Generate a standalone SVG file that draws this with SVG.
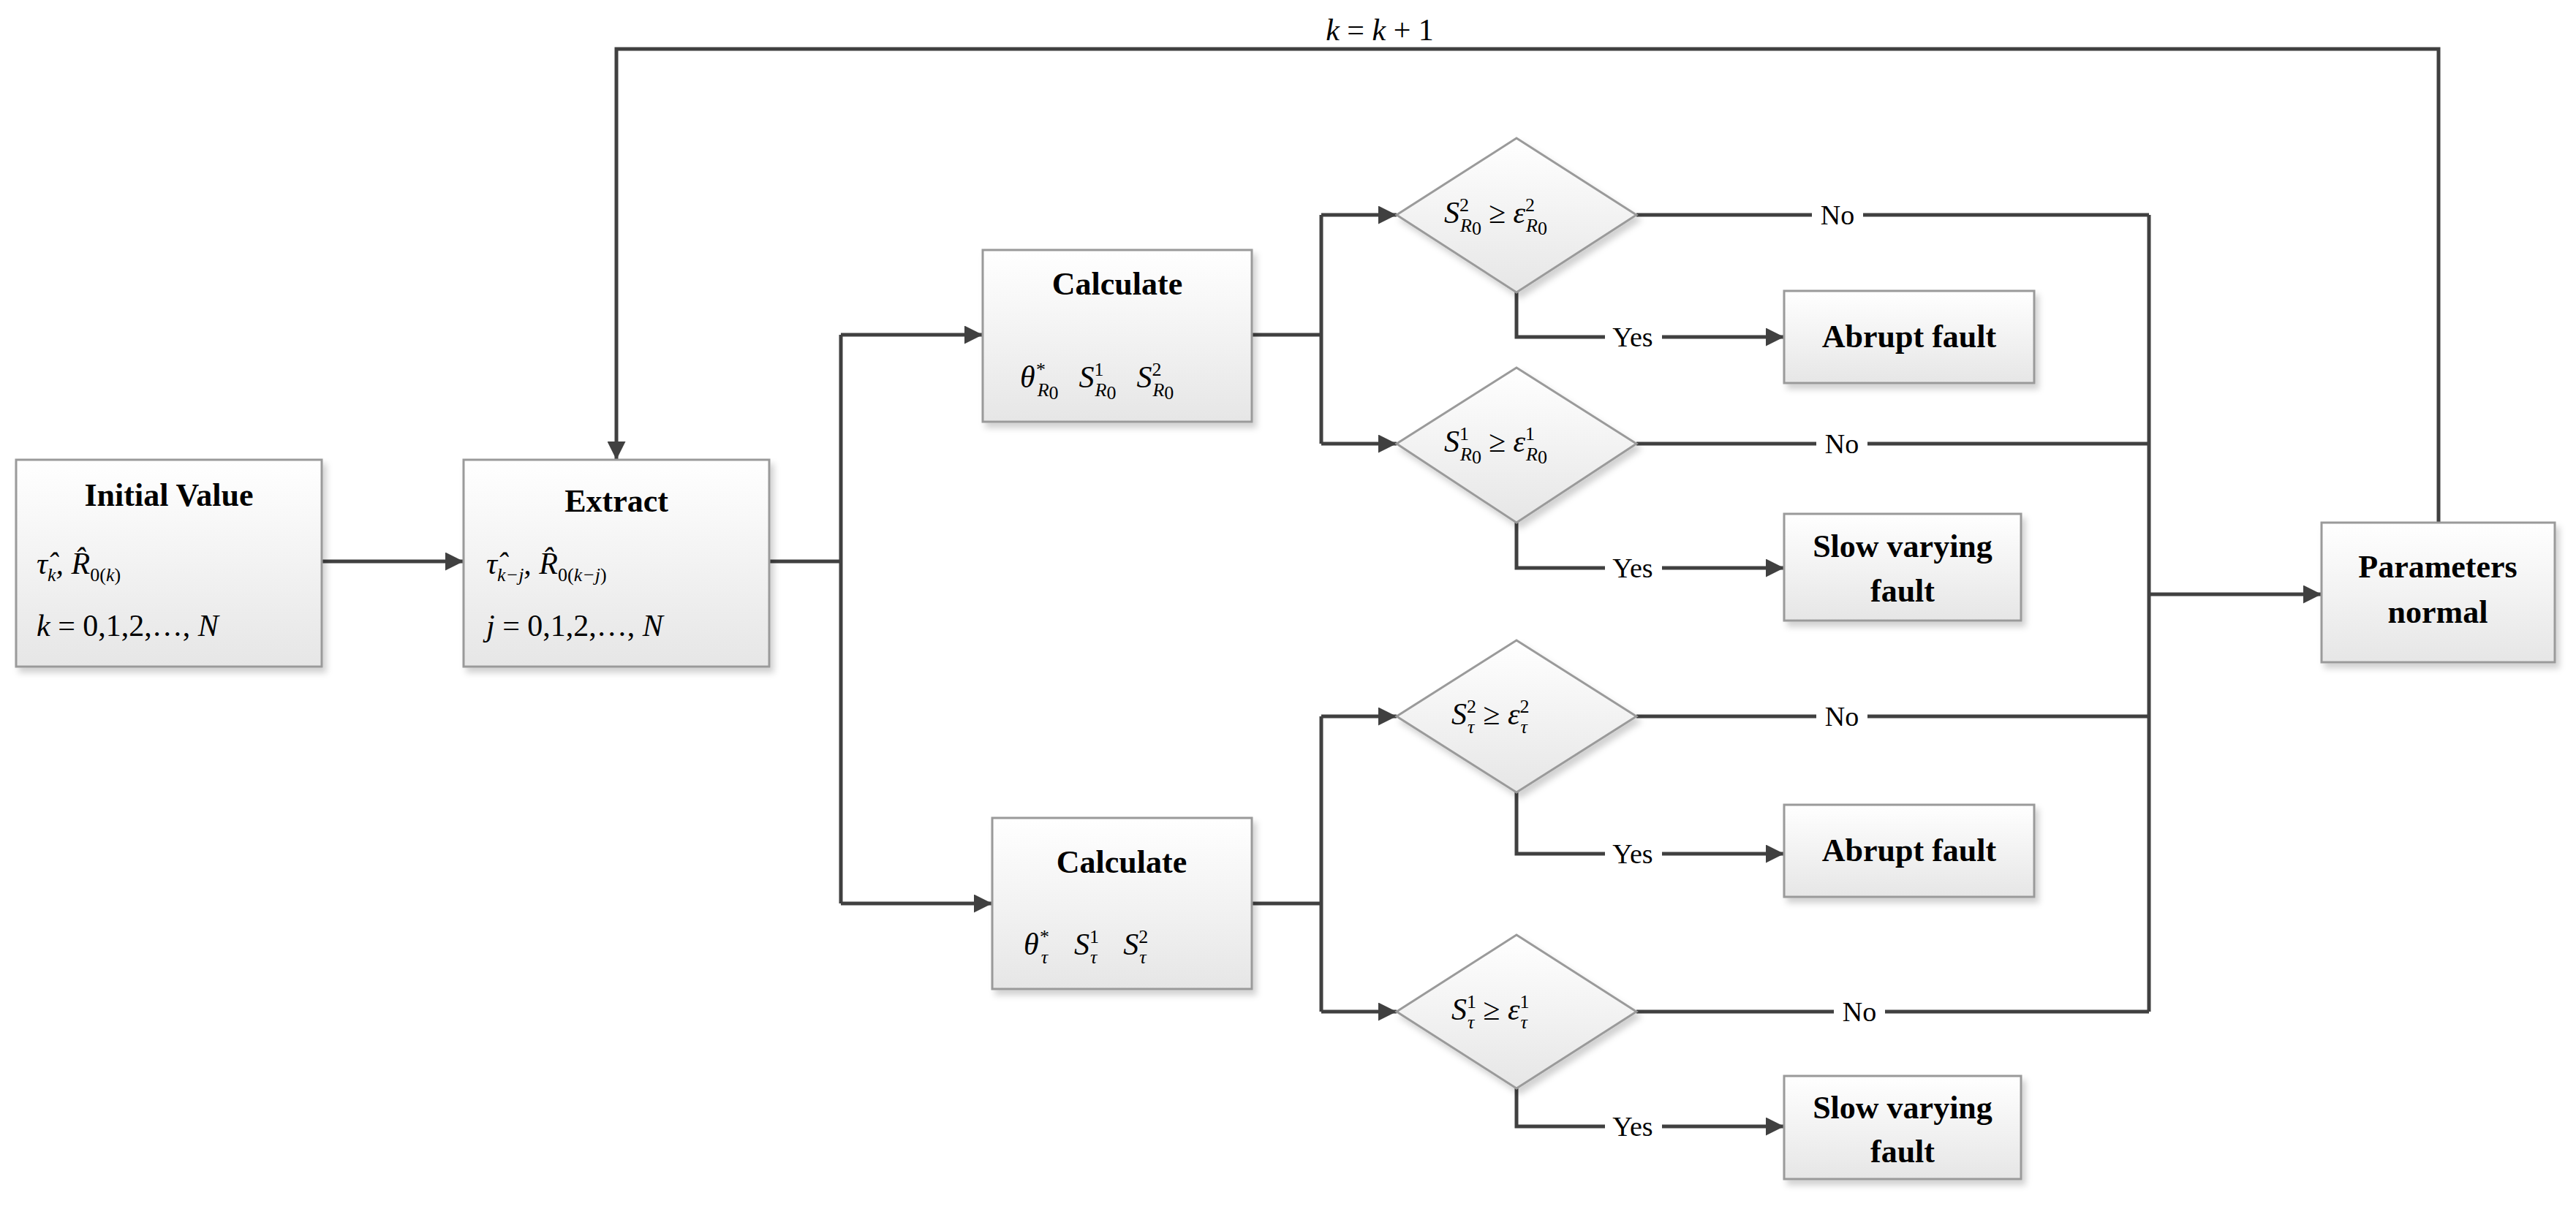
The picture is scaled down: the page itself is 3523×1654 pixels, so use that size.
<svg xmlns="http://www.w3.org/2000/svg" width="3523" height="1654" viewBox="0 0 3523 1654">
<defs>
<linearGradient id="g" x1="0" y1="0" x2="0" y2="1"><stop offset="0" stop-color="#ffffff"/><stop offset="1" stop-color="#e6e6e6"/></linearGradient>
<filter id="sh" x="-10%" y="-10%" width="125%" height="125%"><feDropShadow dx="5" dy="7" stdDeviation="4" flood-color="#000" flood-opacity="0.18"/></filter>
<marker id="a" viewBox="0 0 10 10" refX="10" refY="5" markerWidth="5" markerHeight="5" orient="auto" markerUnits="strokeWidth"><path d="M0,0 L10,5 L0,10 z" fill="#404040"/></marker>
</defs>
<style>
.b{fill:url(#g);stroke:#9a9a9a;stroke-width:3;filter:url(#sh)}
.t{font-family:"Liberation Serif",serif;font-weight:bold;font-size:44px;text-anchor:middle;fill:#000}
.m{font-family:"Liberation Serif",serif;font-style:italic;font-size:42px;fill:#000}
.l{font-family:"Liberation Serif",serif;font-size:38px;fill:#000;text-anchor:middle}
.c path,.c line,.c polyline{stroke:#404040;stroke-width:5;fill:none}
.s{font-size:26px}
</style>
<rect width="3523" height="1654" fill="#fff"/>
<g class="c" id="connectors">
<line x1="440" y1="768" x2="634" y2="768" marker-end="url(#a)"/>
<polyline points="3335,715 3335,67 843,67 843,629" marker-end="url(#a)"/>
<polyline points="1052,768 1150,768"/>
<line x1="1150" y1="458" x2="1150" y2="1236"/>
<line x1="1150" y1="458" x2="1344" y2="458" marker-end="url(#a)"/>
<line x1="1150" y1="1236" x2="1357" y2="1236" marker-end="url(#a)"/>
<line x1="1712" y1="458" x2="1807" y2="458"/>
<line x1="1807" y1="294" x2="1807" y2="607"/>
<line x1="1807" y1="294" x2="1910" y2="294" marker-end="url(#a)"/>
<line x1="1807" y1="607" x2="1910" y2="607" marker-end="url(#a)"/>
<line x1="1712" y1="1236" x2="1807" y2="1236"/>
<line x1="1807" y1="980" x2="1807" y2="1384"/>
<line x1="1807" y1="980" x2="1910" y2="980" marker-end="url(#a)"/>
<line x1="1807" y1="1384" x2="1910" y2="1384" marker-end="url(#a)"/>
<line x1="2238" y1="294" x2="2939" y2="294"/>
<line x1="2238" y1="607" x2="2939" y2="607"/>
<line x1="2238" y1="980" x2="2939" y2="980"/>
<line x1="2238" y1="1384" x2="2939" y2="1384"/>
<line x1="2939" y1="294" x2="2939" y2="1384"/>
<line x1="2939" y1="813" x2="3175" y2="813" marker-end="url(#a)"/>
<polyline points="2074,400 2074,461 2440,461" marker-end="url(#a)"/>
<polyline points="2074,715 2074,777 2440,777" marker-end="url(#a)"/>
<polyline points="2074,1084 2074,1168 2440,1168" marker-end="url(#a)"/>
<polyline points="2074,1489 2074,1541 2440,1541" marker-end="url(#a)"/>
</g>
<g id="labels">
<rect x="2478" y="272" width="70" height="44" fill="#fff"/><text class="l" x="2513" y="307">No</text>
<rect x="2484" y="585" width="70" height="44" fill="#fff"/><text class="l" x="2519" y="620">No</text>
<rect x="2484" y="958" width="70" height="44" fill="#fff"/><text class="l" x="2519" y="993">No</text>
<rect x="2508" y="1362" width="70" height="44" fill="#fff"/><text class="l" x="2543" y="1397">No</text>
<rect x="2195" y="439" width="78" height="44" fill="#fff"/><text class="l" x="2233" y="474">Yes</text>
<rect x="2195" y="755" width="78" height="44" fill="#fff"/><text class="l" x="2233" y="790">Yes</text>
<rect x="2195" y="1146" width="78" height="44" fill="#fff"/><text class="l" x="2233" y="1181">Yes</text>
<rect x="2195" y="1519" width="78" height="44" fill="#fff"/><text class="l" x="2233" y="1554">Yes</text>
<text class="m" x="1887" y="55" text-anchor="middle">k <tspan font-style="normal">= </tspan>k <tspan font-style="normal">+ 1</tspan></text>
</g>
<g id="initial">
<rect class="b" x="22" y="629" width="418" height="283"/>
<text class="t" x="231" y="692">Initial Value</text>
<text class="m" x="50" y="785">τ̂<tspan class="s" dy="10">k</tspan><tspan dy="-10">, R̂</tspan><tspan class="s" dy="10" font-style="normal">0(</tspan><tspan class="s">k</tspan><tspan class="s" font-style="normal">)</tspan></text>
<text class="m" x="50" y="870">k <tspan font-style="normal">= 0,1,2,…,</tspan> N</text>
</g>
<g id="extract">
<rect class="b" x="634" y="629" width="418" height="283"/>
<text class="t" x="843" y="700">Extract</text>
<text class="m" x="665" y="785">τ̂<tspan class="s" dy="10">k−j</tspan><tspan dy="-10">, R̂</tspan><tspan class="s" dy="10" font-style="normal">0(</tspan><tspan class="s">k−j</tspan><tspan class="s" font-style="normal">)</tspan></text>
<text class="m" x="665" y="870">j <tspan font-style="normal">= 0,1,2,…,</tspan> N</text>
</g>
<g id="calc1">
<rect class="b" x="1344" y="342" width="368" height="235"/>
<text class="t" x="1528" y="403">Calculate</text>
<text class="m" x="1395" y="530">θ<tspan class="s" dy="-16">*</tspan><tspan class="s" dx="-10" dy="28">R</tspan><tspan class="s" font-style="normal" dy="4">0</tspan><tspan dx="28" dy="-16">S</tspan><tspan class="s" font-style="normal" dy="-16">1</tspan><tspan class="s" dx="-12" dy="28">R</tspan><tspan class="s" font-style="normal" dy="4">0</tspan><tspan dx="28" dy="-16">S</tspan><tspan class="s" font-style="normal" dy="-16">2</tspan><tspan class="s" dx="-12" dy="28">R</tspan><tspan class="s" font-style="normal" dy="4">0</tspan></text>
</g>
<g id="calc2">
<rect class="b" x="1357" y="1119" width="355" height="234"/>
<text class="t" x="1534" y="1194">Calculate</text>
<text class="m" x="1400" y="1306">θ<tspan class="s" dy="-16">*</tspan><tspan class="s" dx="-10" dy="28">τ</tspan><tspan dx="36" dy="-12">S</tspan><tspan class="s" font-style="normal" dy="-16">1</tspan><tspan class="s" dx="-12" dy="28">τ</tspan><tspan dx="36" dy="-12">S</tspan><tspan class="s" font-style="normal" dy="-16">2</tspan><tspan class="s" dx="-12" dy="28">τ</tspan></text>
</g>
<g id="d1">
<polygon class="b" points="2074,189 2238,294 2074,400 1910,294"/>
<text class="m" x="1975" y="305">S<tspan class="s" font-style="normal" dy="-16">2</tspan><tspan class="s" dx="-12" dy="28">R</tspan><tspan class="s" font-style="normal" dy="4">0</tspan><tspan font-style="normal" dx="10" dy="-16">≥ </tspan>ε<tspan class="s" font-style="normal" dy="-16">2</tspan><tspan class="s" dx="-12" dy="28">R</tspan><tspan class="s" font-style="normal" dy="4">0</tspan></text>
</g>
<g id="d2">
<polygon class="b" points="2074,503 2238,607 2074,715 1910,607"/>
<text class="m" x="1975" y="618">S<tspan class="s" font-style="normal" dy="-16">1</tspan><tspan class="s" dx="-12" dy="28">R</tspan><tspan class="s" font-style="normal" dy="4">0</tspan><tspan font-style="normal" dx="10" dy="-16">≥ </tspan>ε<tspan class="s" font-style="normal" dy="-16">1</tspan><tspan class="s" dx="-12" dy="28">R</tspan><tspan class="s" font-style="normal" dy="4">0</tspan></text>
</g>
<g id="d3">
<polygon class="b" points="2074,876 2238,980 2074,1084 1910,980"/>
<text class="m" x="1985" y="991">S<tspan class="s" font-style="normal" dy="-16">2</tspan><tspan class="s" dx="-12" dy="28">τ</tspan><tspan font-style="normal" dx="12" dy="-12">≥ </tspan>ε<tspan class="s" font-style="normal" dy="-16">2</tspan><tspan class="s" dx="-12" dy="28">τ</tspan></text>
</g>
<g id="d4">
<polygon class="b" points="2074,1279 2238,1384 2074,1489 1910,1384"/>
<text class="m" x="1985" y="1395">S<tspan class="s" font-style="normal" dy="-16">1</tspan><tspan class="s" dx="-12" dy="28">τ</tspan><tspan font-style="normal" dx="12" dy="-12">≥ </tspan>ε<tspan class="s" font-style="normal" dy="-16">1</tspan><tspan class="s" dx="-12" dy="28">τ</tspan></text>
</g>
<g id="abrupt1"><rect class="b" x="2440" y="398" width="342" height="126"/><text class="t" x="2611" y="475">Abrupt fault</text></g>
<g id="slow1"><rect class="b" x="2440" y="703" width="324" height="146"/><text class="t" x="2602" y="762">Slow varying</text><text class="t" x="2602" y="823">fault</text></g>
<g id="abrupt2"><rect class="b" x="2440" y="1101" width="342" height="126"/><text class="t" x="2611" y="1178">Abrupt fault</text></g>
<g id="slow2"><rect class="b" x="2440" y="1472" width="324" height="141"/><text class="t" x="2602" y="1530">Slow varying</text><text class="t" x="2602" y="1590">fault</text></g>
<g id="params"><rect class="b" x="3175" y="715" width="319" height="191"/><text class="t" x="3334" y="790">Parameters</text><text class="t" x="3334" y="852">normal</text></g>
</svg>
